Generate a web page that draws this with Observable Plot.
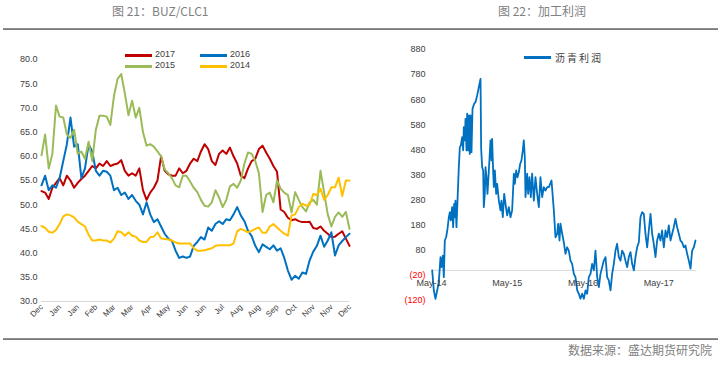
<!DOCTYPE html>
<html><head><meta charset="utf-8">
<script src="https://cdn.jsdelivr.net/npm/d3@7"></script>
<script src="https://cdn.jsdelivr.net/npm/@observablehq/plot@0.6"></script>
<style>
body{margin:0;background:#fff;width:718px;height:367px;position:relative;overflow:hidden;font-family:"Noto Sans CJK SC","Noto Sans",sans-serif;}
.title{position:absolute;top:2px;font-size:12px;color:#808080;white-space:nowrap;}
.rule{position:absolute;left:3px;width:715px;height:2px;background:linear-gradient(#9a9a9a,#6e6e6e);}
.src{position:absolute;right:6px;top:341px;font-size:12px;color:#808080;}
.chart{position:absolute;top:30px;}
.leg{position:absolute;font-family:"Liberation Sans",Arial,sans-serif;font-size:9px;color:#404040;}
.leg .sw{position:absolute;height:2.5px;width:27px;}
.leg span{position:absolute;white-space:nowrap;}
</style></head>
<body>
<div class="title" style="left:112px">图 21：BUZ/CLC1</div>
<div class="title" style="left:498px">图 22：加工利润</div>
<div class="rule" style="top:28px"></div>
<div class="rule" style="top:338px"></div>
<div class="src">数据来源：盛达期货研究院</div>
<div id="left" class="chart" style="left:0"></div>
<div id="right" class="chart" style="left:360px"></div>
<div id="legL"></div>
<div id="legR"></div>
<script>
// ---- Left chart data (BUZ/CLC1), sampled every 0.2 tick-intervals ----
const xLabels = ["Dec","Jan","Jan","Feb","Mar","Mar","Apr","May","Jun","Jun","Jul","Aug","Aug","Sep","Oct","Nov","Nov","Dec"];
const yTicksL = [30,35,40,45,50,55,60,65,70,75,80];
const seriesNames = ["2017","2016","2015","2014"];
const seriesColors = ["#c00000","#0070c0","#9bbb59","#ffc000"];
const s2017 = [52.8,52.5,51.2,53.5,54.5,55.5,54.0,56.0,55.0,53.5,
 54.5,55.3,56.0,57.0,58.0,57.5,58.5,58.0,59.0,58.0,
 58.3,58.5,59.2,57.0,56.0,56.5,56.0,57.5,53.0,51.0,
 52.5,53.5,55.0,60.0,57.0,56.3,56.0,56.0,57.5,56.5,
 57.0,58.5,59.5,59.0,61.0,62.5,61.5,59.0,58.2,60.5,
 61.2,60.5,61.8,60.0,58.5,56.0,55.5,57.5,59.0,59.5,
 61.5,62.2,60.8,59.5,58.0,56.8,49.0,48.5,47.3,46.8,
 47.0,46.6,46.4,46.4,46.5,45.2,45.0,45.5,44.6,44.0,
 43.3,43.4,44.0,44.5,43.0,41.5];
const s2016 = [54.0,56.0,53.0,54.0,53.5,55.5,59.0,62.5,68.0,62.0,
 62.5,55.5,57.5,62.5,61.0,57.0,56.0,57.0,56.8,56.0,
 53.0,53.5,52.0,52.5,51.2,52.0,50.8,50.0,48.0,50.5,
 48.0,46.4,47.0,45.5,44.0,43.0,42.5,40.5,39.0,39.3,
 39.0,39.3,41.5,42.3,43.3,42.8,45.3,44.6,46.0,46.6,
 46.0,47.0,46.8,48.0,49.5,47.8,46.6,44.6,43.5,41.5,
 40.2,41.8,41.3,40.8,41.6,40.5,41.0,39.0,36.4,34.5,
 35.3,34.7,36.0,35.7,38.5,40.3,41.5,43.6,41.3,42.6,
 44.3,39.5,41.6,42.5,43.3,44.0];
const s2015 = [60.2,64.5,57.5,60.5,70.5,68.2,68.0,64.5,63.8,65.5,
 60.5,61.0,59.5,63.0,59.0,65.5,68.4,68.4,68.2,66.5,
 72.5,76.0,77.0,73.0,68.5,71.5,68.0,70.0,65.0,62.2,
 62.5,62.0,61.0,60.0,57.3,56.5,55.5,54.0,53.6,56.0,
 56.0,54.8,53.5,52.6,51.0,49.8,49.6,50.5,53.0,51.5,
 49.5,51.0,53.8,54.3,53.5,55.0,58.5,60.8,60.5,59.0,
 56.5,48.5,52.0,52.5,50.5,55.0,53.3,52.5,52.0,48.4,
 52.6,51.0,49.5,48.6,50.5,51.0,50.0,57.0,52.5,48.0,
 45.5,47.5,48.4,47.5,48.5,45.0];
const s2014 = [45.6,45.2,44.4,44.2,44.8,46.0,47.6,48.0,47.8,47.4,
 46.5,46.0,45.5,43.8,42.6,42.6,42.8,42.6,42.6,42.2,
 43.0,44.5,44.3,43.6,44.3,43.6,43.4,42.6,42.3,42.3,
 43.3,43.4,44.3,43.0,42.9,42.8,42.6,42.2,42.0,42.0,
 42.0,42.0,41.0,40.5,40.5,40.6,40.8,41.0,41.5,41.6,
 41.6,41.6,41.6,42.0,44.5,45.0,44.7,44.3,44.6,45.0,
 45.3,44.2,44.2,45.5,46.0,45.3,44.6,44.0,43.6,47.8,
 48.0,49.5,50.2,49.8,50.0,52.2,52.0,53.3,51.0,52.0,
 53.6,53.6,55.6,51.8,55.0,55.0];
const STEP = 0.2;

// ---- Right chart data (沥青利润): months after May-14, and profit ----
const profitName = "沥青利润";
const profitMonths = [0.11,0.37,0.63,0.90,1.16,1.43,1.58,1.80,1.95,2.11,2.32,2.54,2.75,2.91,3.06,3.28,3.43,3.59,3.70,3.80,
 3.96,4.12,4.33,4.49,4.65,4.86,5.02,5.12,5.28,5.39,5.55,5.65,5.81,5.92,6.07,6.18,6.34,6.50,6.76,6.97,
 7.24,7.50,7.77,7.87,8.03,8.19,8.29,8.45,8.56,8.72,8.87,9.09,9.35,9.51,9.61,9.77,9.88,10.04,10.25,10.41,
 10.67,10.94,11.09,11.30,11.52,11.73,11.99,12.26,12.52,12.78,13.05,13.21,13.42,13.63,13.84,14.05,14.26,14.47,14.63,14.79,
 14.90,15.16,15.32,15.53,15.74,15.95,16.22,16.48,16.75,17.01,17.27,17.54,17.80,18.07,18.33,18.60,19.02,19.39,19.65,19.92,
 20.07,20.29,20.44,20.71,20.97,21.24,21.50,21.76,22.03,22.29,22.56,22.82,23.09,23.35,23.61,23.88,24.14,24.41,24.67,24.93,
 25.20,25.46,25.73,25.99,26.26,26.52,26.78,27.05,27.31,27.58,27.84,28.10,28.37,28.63,28.90,29.16,29.42,29.69,29.95,30.22,
 30.48,30.74,31.01,31.27,31.54,31.80,32.07,32.33,32.59,32.86,33.12,33.39,33.65,33.91,34.18,34.44,34.71,34.97,35.23,35.50,
 35.76,36.03,36.29,36.55,36.82,37.08,37.35,37.61,37.88,38.14,38.40,38.67,38.93,39.20,39.46,39.72,39.99,40.25,40.52,40.78,
 41.05,41.31,41.58,41.84];
const profit = [0,-80,-113,-80,-47,53,13,59,-27,119,132,166,212,232,199,252,172,265,212,278,
 172,278,411,491,498,531,478,571,518,604,478,624,478,617,464,617,471,644,664,670,
 697,730,763,484,411,398,252,305,411,371,305,398,518,438,524,398,332,398,305,345,
 278,239,278,212,305,265,219,252,212,239,385,345,398,371,391,424,438,478,518,451,
 292,385,305,371,292,385,278,371,305,252,371,292,332,318,332,332,358,239,132,146,
 185,119,186,146,112,66,92,79,39,26,-14,-27,-80,-93,-113,-93,-113,-80,-93,-27,
 -14,26,0,79,-27,-67,-14,13,39,53,-27,-40,-80,-14,26,79,106,53,39,79,
 66,39,13,53,73,26,0,53,92,112,212,232,225,146,92,159,225,146,106,53,
 119,146,119,159,92,159,132,179,119,146,172,205,172,146,119,112,92,99,66,39,
 7,79,92,119];
const yTicksR = [-120,-20,80,180,280,380,480,580,680,780,880];
const xTickMonthsR = [0,12,24,36];
const xTickLabelsR = ["May-14","May-15","May-16","May-17"];

const tickFont = '"Liberation Sans", Arial, sans-serif';
const allSeries = [s2017, s2016, s2015, s2014];

// ---------- Left chart ----------
const leftMarks = [Plot.ruleY([30], {stroke: "#d9d9d9", strokeWidth: 1})];
allSeries.forEach((arr, si) => {
  const rows = arr.map((v, i) => ({t: i * STEP, v}));
  leftMarks.push(Plot.line(rows, {x: "t", y: "v", stroke: seriesColors[si], strokeWidth: 2}));
});
leftMarks.push(Plot.text(yTicksL, {y: d => d, frameAnchor: "left", textAnchor: "end", dx: -4,
  text: d => d3.format(".1f")(d), fill: "#404040", fontSize: 9}));
leftMarks.push(Plot.text(xLabels.map((l, i) => ({i, l})), {x: "i", frameAnchor: "bottom", text: "l",
  rotate: -45, textAnchor: "end", dx: 2, dy: 6, fill: "#404040", fontSize: 8}));
const left = Plot.plot({
  width: 360, height: 300, marginLeft: 41, marginRight: 11, marginTop: 29, marginBottom: 29,
  x: {domain: [0, 17], axis: null},
  y: {domain: [30, 80], axis: null},
  style: {fontFamily: tickFont, background: "transparent", overflow: "visible"},
  marks: leftMarks
});
document.getElementById("left").appendChild(left);

// ---------- Right chart ----------
const pRows = profit.map((v, k) => ({m: profitMonths[k], v}));
const right = Plot.plot({
  width: 358, height: 300, marginLeft: 71, marginRight: 22, marginTop: 19, marginBottom: 30,
  x: {domain: [0, 42], axis: null},
  y: {domain: [-120, 880], axis: null},
  style: {fontFamily: tickFont, background: "transparent", overflow: "visible"},
  marks: [
    Plot.ruleY([0], {stroke: "#d9d9d9", strokeWidth: 1}),
    Plot.line(pRows, {x: "m", y: "v", stroke: "#0070c0", strokeWidth: 1.8}),
    Plot.text(yTicksR.filter(d => d >= 0), {y: d => d, frameAnchor: "left", textAnchor: "end", dx: -6,
      text: d => String(d), fill: "#404040", fontSize: 9}),
    Plot.text(yTicksR.filter(d => d < 0), {y: d => d, frameAnchor: "left", textAnchor: "end", dx: -6,
      text: d => "(" + Math.abs(d) + ")", fill: "#ff0000", fontSize: 9}),
    Plot.text(xTickMonthsR.map((m, i) => ({m, l: xTickLabelsR[i]})), {x: "m", y: () => 0,
      text: "l", dy: 13, fill: "#404040", fontSize: 9})
  ]
});
document.getElementById("right").appendChild(right);

// ---------- Legends (HTML) ----------
const legL = document.getElementById("legL");
const legPos = [[125, 55], [200, 55], [125, 66], [200, 66]];
seriesNames.forEach((n, i) => {
  const d = document.createElement("div");
  d.className = "leg";
  d.style.left = legPos[i][0] + "px"; d.style.top = legPos[i][1] + "px";
  d.innerHTML = `<div class="sw" style="left:0;top:-1px;background:${seriesColors[i]}"></div><span style="left:30px;top:-6px">${n}</span>`;
  legL.appendChild(d);
});
const legR = document.getElementById("legR");
const dr = document.createElement("div");
dr.className = "leg";
dr.style.left = "524px"; dr.style.top = "57px";
dr.innerHTML = `<div class="sw" style="left:0;top:-1px;background:#0070c0"></div><span style="left:31px;top:-7px;font-family:'Noto Sans CJK SC';font-size:10px;letter-spacing:2px">${profitName}</span>`;
legR.appendChild(dr);
</script>
</body></html>
